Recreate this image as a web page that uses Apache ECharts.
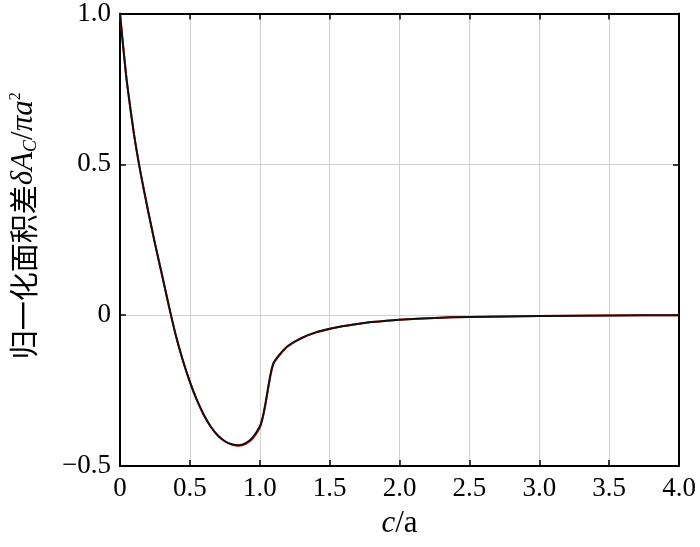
<!DOCTYPE html>
<html>
<head>
<meta charset="utf-8">
<script src="https://cdn.jsdelivr.net/npm/echarts@6/dist/echarts.min.js"></script>
<style>html,body{margin:0;padding:0;background:#fff;}#c{width:700px;height:547px;}</style>
</head>
<body>
<div id="c"></div>
<script>
// c/a values
const cValues = [0, 0.025, 0.05, 0.1, 0.15, 0.2, 0.25, 0.3, 0.35, 0.4, 0.45, 0.5, 0.55, 0.6, 0.65, 0.7, 0.75, 0.8, 0.85, 0.9, 0.95, 1.0, 1.02, 1.04, 1.06, 1.08, 1.1, 1.15, 1.2, 1.3, 1.4, 1.5, 1.6, 1.7, 1.8, 2.0, 2.25, 2.5, 3.0, 3.5, 4.0];
// simulated (black)
const blackValues = [1.0, 0.88, 0.77, 0.60, 0.465, 0.348, 0.238, 0.135, 0.03, -0.068, -0.15, -0.221, -0.281, -0.331, -0.37, -0.399, -0.418, -0.428, -0.431, -0.424, -0.405, -0.369, -0.34, -0.295, -0.24, -0.19, -0.157, -0.126, -0.102, -0.075, -0.057, -0.045, -0.036, -0.029, -0.023, -0.015, -0.009, -0.006, -0.003, -0.001, 0];
// theory (red, mostly hidden beneath)
const redValues = [1.0, 0.88, 0.77, 0.60, 0.465, 0.348, 0.238, 0.135, 0.03, -0.068, -0.15, -0.221, -0.281, -0.331, -0.37, -0.399, -0.418, -0.429, -0.433, -0.427, -0.409, -0.373, -0.343, -0.298, -0.243, -0.193, -0.159, -0.128, -0.104, -0.076, -0.058, -0.046, -0.036, -0.029, -0.023, -0.015, -0.009, -0.006, -0.003, -0.001, 0];
const xTickLabels = ['0', '0.5', '1.0', '1.5', '2.0', '2.5', '3.0', '3.5', '4.0'];
const yTickLabels = ['\u22120.5', '0', '0.5', '1.0'];

const serif = '"Liberation Serif", "Times New Roman", serif';
const chart = echarts.init(document.getElementById('c'));
const pair = (xs, ys) => xs.map((x, i) => [x, ys[i]]);
const axisLineStyle = { color: '#000', width: 2 };
const tickStyle = { inside: true, length: 6, lineStyle: { color: '#000', width: 1.5 } };
chart.setOption({
  animation: false,
  grid: { left: 115, right: 21, top: 13, bottom: 81 },
  xAxis: [{
    type: 'value', min: 0, max: 4, interval: 0.5,
    axisLine: { onZero: false, lineStyle: axisLineStyle },
    axisTick: tickStyle,
    axisLabel: { fontFamily: serif, fontSize: 27, color: '#000', margin: 9,
      formatter: (v) => xTickLabels[Math.round(v / 0.5)] },
    splitLine: { show: true, lineStyle: { color: '#d0d0d0', width: 1 } },
    name: '{it|c}{n|/a}', nameLocation: 'middle', nameGap: 42,
    nameTextStyle: { rich: {
      it: { fontFamily: serif, fontStyle: 'italic', fontSize: 31, color: '#000' },
      n: { fontFamily: serif, fontSize: 31, color: '#000' } } }
  }, {
    type: 'value', min: 0, max: 4, interval: 0.5, position: 'top',
    axisLine: { onZero: false, lineStyle: axisLineStyle },
    axisTick: tickStyle,
    axisLabel: { show: false }, splitLine: { show: false }
  }],
  yAxis: [{
    type: 'value', min: -0.5, max: 1, interval: 0.5,
    axisLine: { onZero: false, lineStyle: axisLineStyle },
    axisTick: tickStyle,
    axisLabel: { fontFamily: serif, fontSize: 27, color: '#000', margin: 9,
      formatter: (v) => yTickLabels[Math.round((v + 0.5) / 0.5)] },
    splitLine: { show: true, lineStyle: { color: '#d0d0d0', width: 1 } },
    name: '{cn|归一化面积差}{it|δA}{sub|C}{n|/}{it|πa}{sup|2}',
    nameLocation: 'middle', nameGap: 80, nameRotate: 90,
    nameTextStyle: { padding: [0, 0, 0, 28], rich: {
      cn: { fontFamily: '"Noto Sans CJK SC"', fontSize: 29, color: '#000', lineHeight: 32 },
      it: { fontFamily: serif, fontStyle: 'italic', fontSize: 31, color: '#000', lineHeight: 32 },
      n: { fontFamily: serif, fontSize: 31, color: '#000', lineHeight: 32 },
      sub: { fontFamily: serif, fontStyle: 'italic', fontSize: 18, color: '#000', lineHeight: 18, verticalAlign: 'bottom' },
      sup: { fontFamily: serif, fontSize: 16, color: '#000', lineHeight: 16, verticalAlign: 'top' } } }
  }, {
    type: 'value', min: -0.5, max: 1, interval: 0.5, position: 'right',
    axisLine: { onZero: false, lineStyle: axisLineStyle },
    axisTick: tickStyle,
    axisLabel: { show: false }, splitLine: { show: false }
  }],
  series: [{
    type: 'line', data: pair(cValues, redValues), showSymbol: false, smooth: 0.2,
    lineStyle: { color: '#e02020', width: 2 }, z: 2
  }, {
    type: 'line', data: pair(cValues, blackValues), showSymbol: false, smooth: 0.2,
    lineStyle: { color: '#111', width: 2 }, z: 3
  }]
});
</script>
</body>
</html>
